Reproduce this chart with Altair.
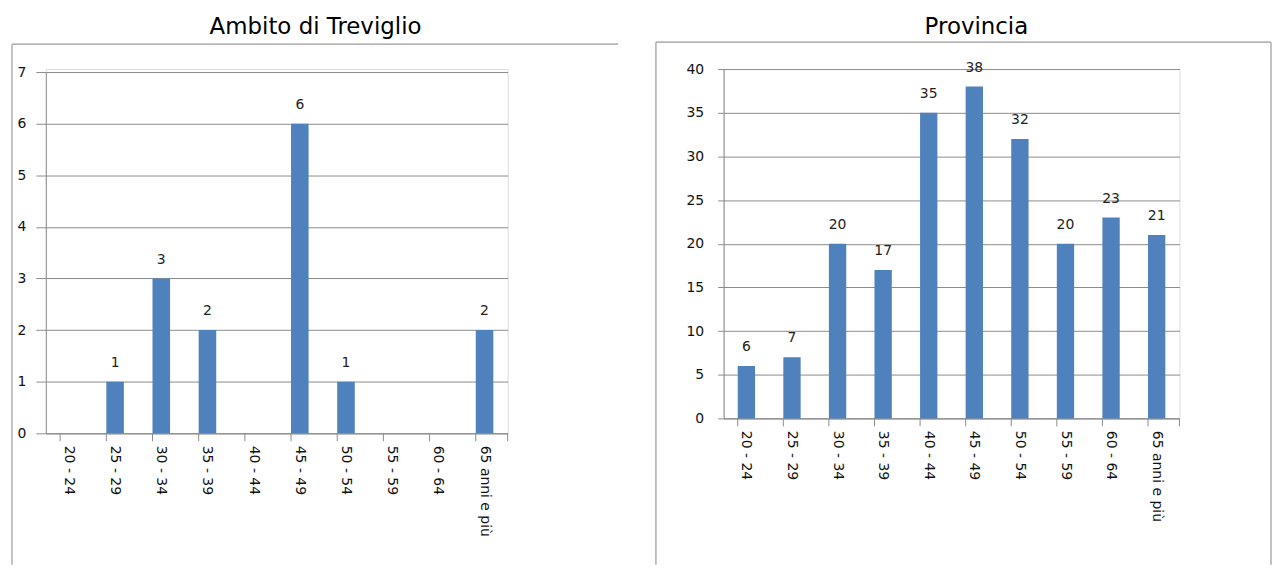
import altair as alt
import pandas as pd

categories = ["20 - 24", "25 - 29", "30 - 34", "35 - 39", "40 - 44",
              "45 - 49", "50 - 54", "55 - 59", "60 - 64", "65 anni e più"]
treviglio = [None, 1, 3, 2, None, 6, 1, None, None, 2]
provincia = [6, 7, 20, 17, 35, 38, 32, 20, 23, 21]
treviglio_ticks = [0, 1, 2, 3, 4, 5, 6, 7]
provincia_ticks = [0, 5, 10, 15, 20, 25, 30, 35, 40]
titles = ["Ambito di Treviglio", "Provincia"]

FONT = "DejaVu Sans"
BAR = "#4F81BD"
GRID = "#8C8C8C"
FRAME = "#9A9A9A"


def panel(values, ticks, title, w, h, ytop, ymax, frame, title_x, title_y, tick_sz, lab_pad):
    df = pd.DataFrame({"cat": categories, "v": values})
    base = alt.Chart(df)
    xscale = alt.Scale(paddingInner=0.62, paddingOuter=0.31)
    xenc = alt.X("cat:N", sort=categories, scale=xscale,
                 axis=alt.Axis(title=None, labelAngle=90, ticks=False, domain=True,
                               domainColor=GRID, labelPadding=12, labelFont=FONT,
                               labelFontSize=14, labelColor="#111111", grid=False,
                               labelLimit=200))
    yenc = alt.Y("v:Q", scale=alt.Scale(domain=[0, ymax], nice=False, range=[h, ytop]),
                 axis=alt.Axis(title=None, values=ticks, format="d", grid=True,
                               gridColor=GRID, domainColor=GRID, tickColor=GRID,
                               tickSize=tick_sz, labelPadding=lab_pad, labelFont=FONT,
                               labelFontSize=14, labelColor="#111111"))
    bars = base.mark_bar(color=BAR).encode(x=xenc, y=yenc)
    labels = base.mark_text(dy=-15, font=FONT, fontSize=14, color="#222222",
                            baseline="alphabetic").encode(
        x=alt.X("cat:N", sort=categories),
        y=alt.Y("v:Q"),
        text=alt.Text("v:Q", format="d"),
    )
    bticks = base.mark_rule(color=GRID).encode(
        x=alt.X("cat:N", sort=categories, bandPosition=0),
        y=alt.value(h), y2=alt.value(h + 8),
    )
    one = alt.Chart(pd.DataFrame({"k": [0]}))
    end_tick = one.mark_rule(color=GRID).encode(
        x=alt.value(w), y=alt.value(h), y2=alt.value(h + 8))
    fx0, fx1, fy0, fy1 = frame
    top = one.mark_rule(color=FRAME, strokeWidth=1.2).encode(
        x=alt.value(fx0), x2=alt.value(fx1), y=alt.value(fy0))
    left = one.mark_rule(color=FRAME, strokeWidth=1.2).encode(
        x=alt.value(fx0), y=alt.value(fy0), y2=alt.value(fy1))
    layers = [top, left]
    if fx1 < w + 100:
        right = one.mark_rule(color=FRAME, strokeWidth=1.2).encode(
            x=alt.value(fx1), y=alt.value(fy0), y2=alt.value(fy1))
        layers.append(right)
    ttl = one.mark_text(font=FONT, fontSize=23, color="#000000", align="center",
                        baseline="alphabetic").encode(
        x=alt.value(title_x), y=alt.value(title_y), text=alt.value(title))
    return alt.layer(*layers, bars, labels, bticks, end_tick, ttl).properties(
        width=w, height=h)


left_panel = panel(treviglio, treviglio_ticks, titles[0], 464, 366, 3, 7,
                   (-34, 575, -25, 498), 271, -35, 10, 10)
right_panel = panel(provincia, provincia_ticks, titles[1], 458, 351, 0, 40,
                    (-68, 550, -27, 498), 254, -35, 6, 14)

chart = alt.hconcat(left_panel, right_panel, spacing=34).properties(
    padding={"left": 2, "top": 6, "right": 0, "bottom": 0}
).configure_view(stroke=None).configure(background="white")

chart.save("out.html", embed_options={"renderer": "svg", "actions": False})
